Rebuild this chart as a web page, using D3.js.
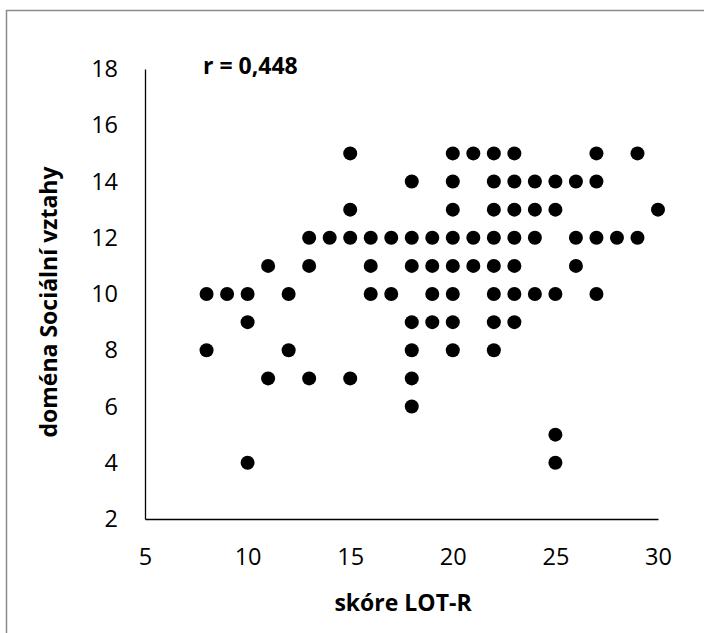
<!DOCTYPE html>
<html>
<head>
<meta charset="utf-8">
<script src="https://cdn.jsdelivr.net/npm/d3@7"></script>
<style>
  html, body { margin: 0; padding: 0; background: #fff; }
  svg { display: block; }
  text { font-family: "Open Sans", Lato, sans-serif; fill: #000; }
</style>
</head>
<body>
<svg id="chart" width="704" height="633"></svg>
<script>
// LOT-R score (x) vs. Social relationships domain (y), one pair per respondent
const lotR = [
  15, 20, 21, 22, 23, 27, 29,
  18, 20, 22, 23, 24, 25, 26, 27,
  15, 20, 22, 23, 24, 25, 30,
  13, 14, 15, 16, 17, 18, 19, 20, 21, 22, 23, 24, 26, 27, 28, 29,
  11, 13, 16, 18, 19, 20, 21, 22, 23, 26,
  8, 9, 10, 12, 16, 17, 19, 20, 22, 23, 24, 25, 27,
  10, 18, 19, 20, 22, 23,
  8, 12, 18, 20, 22,
  11, 13, 15, 18,
  18,
  25,
  10, 25
];
const socialDomain = [
  15, 15, 15, 15, 15, 15, 15,
  14, 14, 14, 14, 14, 14, 14, 14,
  13, 13, 13, 13, 13, 13, 13,
  12, 12, 12, 12, 12, 12, 12, 12, 12, 12, 12, 12, 12, 12, 12, 12,
  11, 11, 11, 11, 11, 11, 11, 11, 11, 11,
  10, 10, 10, 10, 10, 10, 10, 10, 10, 10, 10, 10, 10,
  9, 9, 9, 9, 9, 9,
  8, 8, 8, 8, 8,
  7, 7, 7, 7,
  6,
  5,
  4, 4
];
const xTicks = [5, 10, 15, 20, 25, 30];
const yTicks = [2, 4, 6, 8, 10, 12, 14, 16, 18];
const correlationLabel = "r = 0,448";
const xTitle = "skóre LOT-R";
const yTitle = "doména Sociální vztahy";

const points = lotR.map((v, i) => ({ x: v, y: socialDomain[i] }));

const svg = d3.select("#chart");

// outer chart frame
svg.append("rect")
  .attr("x", 6.5).attr("y", 10.5)
  .attr("width", 720).attr("height", 640)
  .attr("fill", "none")
  .attr("stroke", "#8c8c8c")
  .attr("stroke-width", 1.5);

const x = d3.scaleLinear().domain([5, 30]).range([145, 658]);
const y = d3.scaleLinear().domain([2, 18]).range([519, 69]);

const tickFont = 23.5;
const titleFont = 23;

// x axis
const xAxis = svg.append("g")
  .attr("transform", `translate(0,${y(2)})`)
  .call(d3.axisBottom(x).tickValues(xTicks).tickSize(0).tickPadding(29).tickFormat(d3.format("d")));
xAxis.select(".domain").attr("stroke", "#000").attr("stroke-width", 1.3);
xAxis.selectAll("text").attr("font-size", tickFont).attr("font-family", "'Open Sans', sans-serif");

// y axis
const yAxis = svg.append("g")
  .attr("transform", `translate(${x(5)},0)`)
  .call(d3.axisLeft(y).tickValues(yTicks).tickSize(0).tickPadding(27).tickFormat(d3.format("d")));
yAxis.select(".domain").attr("stroke", "#000").attr("stroke-width", 1.3);
yAxis.selectAll("text").attr("font-size", tickFont).attr("font-family", "'Open Sans', sans-serif");

// data points
svg.append("g")
  .selectAll("circle")
  .data(points)
  .join("circle")
  .attr("cx", d => x(d.x))
  .attr("cy", d => y(d.y))
  .attr("r", 7)
  .attr("fill", "#000");

// correlation annotation
svg.append("text")
  .attr("x", 203).attr("y", 74)
  .attr("font-size", titleFont).attr("font-weight", "bold")
  .text(correlationLabel);

// axis titles
svg.append("text")
  .attr("x", 403).attr("y", 611)
  .attr("text-anchor", "middle")
  .attr("font-size", titleFont).attr("font-weight", "bold")
  .text(xTitle);

svg.append("text")
  .attr("transform", `translate(57,${(y(2) + y(18)) / 2 + 8}) rotate(-90)`)
  .attr("text-anchor", "middle")
  .attr("font-size", titleFont).attr("font-weight", "bold")
  .text(yTitle);
</script>
</body>
</html>
